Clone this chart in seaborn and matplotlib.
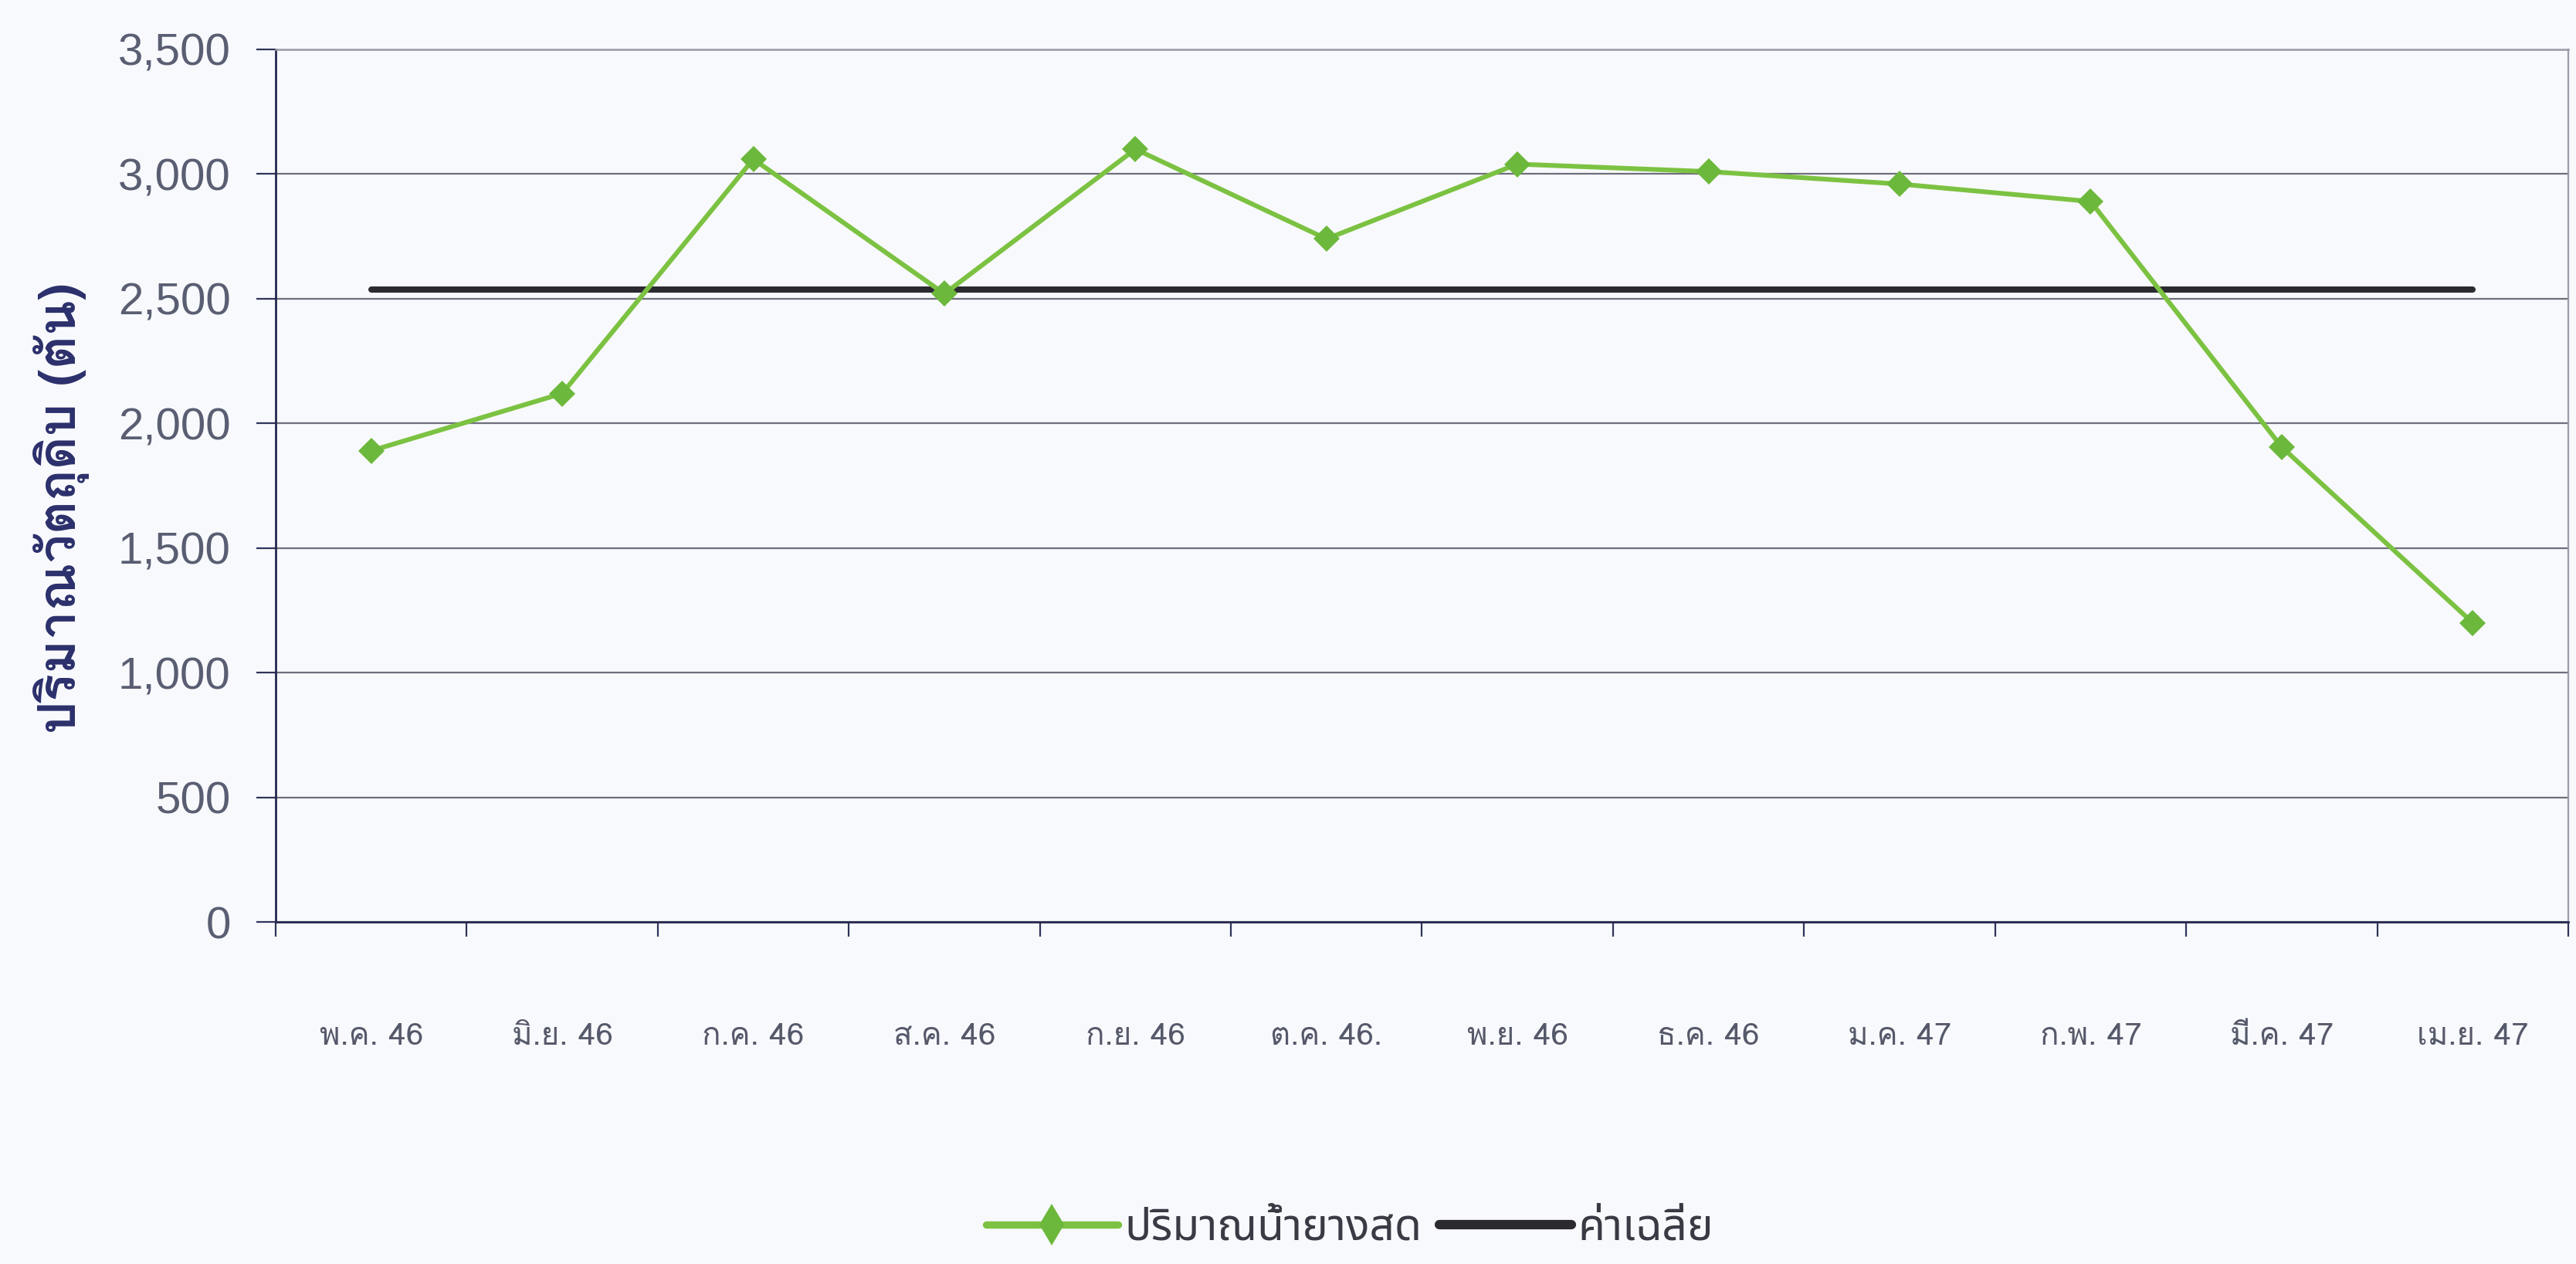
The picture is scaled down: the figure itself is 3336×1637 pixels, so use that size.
import numpy as np
import pandas as pd
import seaborn as sns
import matplotlib
matplotlib.use("Agg")
import matplotlib.pyplot as plt
from matplotlib import font_manager
from matplotlib.lines import Line2D

months = ["พ.ค. 46", "มิ.ย. 46", "ก.ค. 46", "ส.ค. 46", "ก.ย. 46", "ต.ค. 46.",
          "พ.ย. 46", "ธ.ค. 46", "ม.ค. 47", "ก.พ. 47", "มี.ค. 47", "เม.ย. 47"]
latex_tons = [1890, 2120, 3060, 2520, 3100, 2740, 3040, 3010, 2960, 2890, 1905, 1200]
y_ticks = [0, 500, 1000, 1500, 2000, 2500, 3000, 3500]
series_latex = "ปริมาณน้ำยางสด"
series_avg = "ค่าเฉลี่ย"
y_title = "ปริมาณวัตถุดิบ (ตัน)"

# the reference line is the mean of the monthly quantities
avg_value = float(np.mean(latex_tons))
avg_tons = [avg_value] * len(months)

df = pd.DataFrame({"month": months, "latex": latex_tons, "avg": avg_tons})

installed = {f.name for f in font_manager.fontManager.ttflist}


def pick(*names):
    for n in names:
        if n in installed:
            return n
    return "DejaVu Sans"


looped = pick("Loma", "Sarabun", "Noto Sans Thai Looped")
loopless = pick("Noto Sans Thai", "Noto Sans Thai UI", "Prompt")
digits = pick("Liberation Sans", "DejaVu Sans")

sns.set_theme(style="white")
plt.rcParams["font.family"] = [looped, "DejaVu Sans"]

W, H, DPI = 3336, 1637, 200
BG = "#f8f9fc"
fig = plt.figure(figsize=(W / DPI, H / DPI), dpi=DPI, facecolor=BG)
ax = fig.add_axes([357 / W, 1 - 1194 / H, (3326 - 357) / W, (1194 - 64) / H])
ax.set_facecolor(BG)

sns.lineplot(data=df, x="month", y="avg", ax=ax, color="#2c2a31", lw=2.9, sort=False)
sns.lineplot(data=df, x="month", y="latex", ax=ax, color="#7cc242", lw=2.2,
             marker="D", markersize=8.5, markeredgewidth=0, markerfacecolor="#6cb83c",
             sort=False)

ax.set_xlim(-0.5, len(months) - 0.5)
ax.set_ylim(0, 3500)
ax.set_yticks(y_ticks)
ax.set_yticklabels([f"{v:,}" for v in y_ticks], family=digits)
ax.yaxis.grid(True, color="#6e6e7c", lw=0.8)
ax.set_axisbelow(True)
ax.set_xlabel("")
ax.set_ylabel("")

ax.tick_params(axis="y", length=9, width=0.8, color="#30345a", pad=12,
               labelsize=21, labelcolor="#5a5e72", direction="out", left=True)
ax.set_xticks(range(len(months)))
ax.set_xticklabels(months)
ax.set_xticks(np.arange(-0.5, len(months), 1.0), minor=True)
ax.tick_params(axis="x", which="major", length=0, pad=47, labelsize=14.5, labelcolor="#55596a")
ax.tick_params(axis="x", which="minor", length=7, width=0.8, color="#30345a",
               direction="out", bottom=True)

for side in ["left", "bottom"]:
    ax.spines[side].set_color("#26294f")
    ax.spines[side].set_linewidth(1.0)
ax.spines["top"].set_color("#9a9aa8")
ax.spines["top"].set_linewidth(0.9)
ax.spines["right"].set_color("#9a9aa8")
ax.spines["right"].set_linestyle((0, (2, 1)))
ax.spines["right"].set_linewidth(0.8)
if ax.get_legend():
    ax.get_legend().remove()

fig.text(80 / W, 1 - 658 / H, y_title, rotation=90, ha="center", va="center",
         fontsize=24, fontweight="bold", color="#2b2f6b")

handles = [
    Line2D([], [], color="#7cc242", lw=3.4, marker="d", markersize=14,
           markerfacecolor="#6cb83c", markeredgewidth=0),
    Line2D([], [], color="#2c2a31", lw=4.4),
]
fig.legend(handles, [series_latex, series_avg], loc="center",
           bbox_to_anchor=(1748 / W, 1 - 1591 / H), ncol=2, frameon=False,
           prop={"family": [loopless, "DejaVu Sans"], "size": 20.5},
           handlelength=3.0, handletextpad=0.15, columnspacing=0.4,
           labelcolor="#3a3a44")

fig.savefig("out.png", dpi=DPI, facecolor=fig.get_facecolor())
